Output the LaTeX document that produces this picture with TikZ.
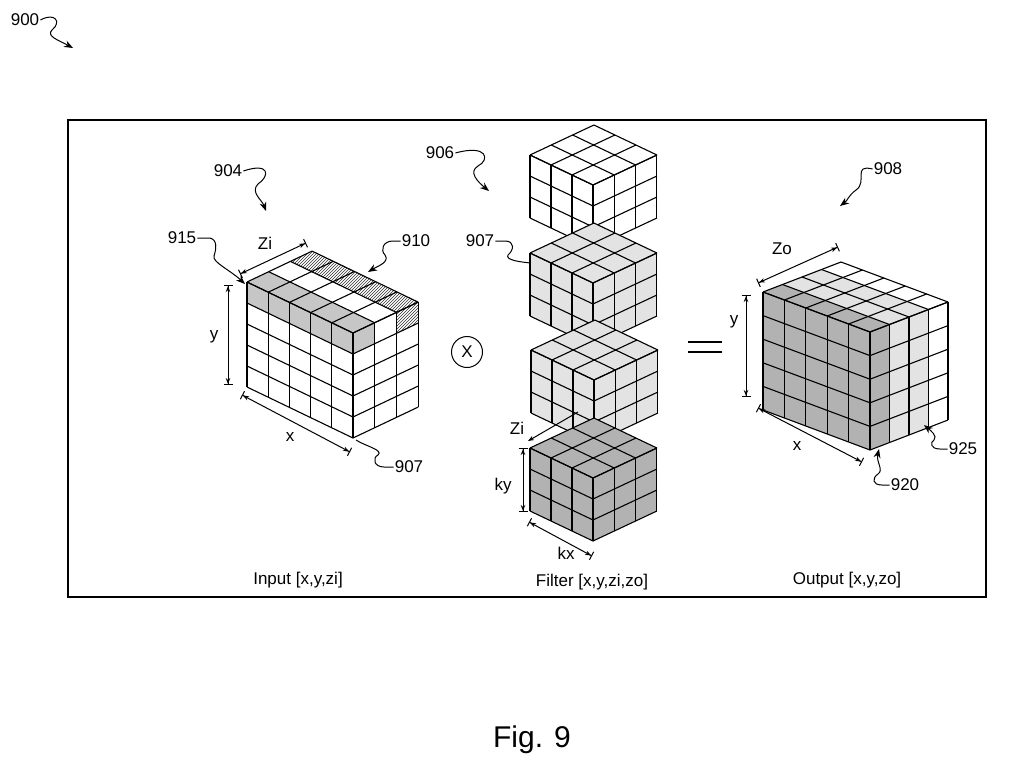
\documentclass[tikz,border=0pt]{standalone}
\usepackage{fontspec}
\setmainfont{Liberation Sans}
\usetikzlibrary{arrows.meta,patterns}
\newcommand\blk[8]{%
 \path[#6] (#1,#2) -- ++({#3*\ax},{#3*\ay}) -- ++(0,{#4*\hh}) -- ++({-#3*\ax},{-#3*\ay}) -- cycle;
 \path[#7] ({#1+#3*\ax},{#2+#3*\ay}) -- ++({#5*\bx},{#5*\by}) -- ++(0,{#4*\hh}) -- ++({-#5*\bx},{-#5*\by}) -- cycle;
 \path[#8] (#1,#2) -- ++({#3*\ax},{#3*\ay}) -- ++({#5*\bx},{#5*\by}) -- ++({-#3*\ax},{-#3*\ay}) -- cycle;
}
\newcommand\grid[5]{%
 \foreach \i in {0,...,#3}{\draw[cl] ({#1+\i*\ax},{#2+\i*\ay}) -- ++(0,{#4*\hh});
   \draw[cl] ({#1+\i*\ax},{#2+\i*\ay}) -- ++({#5*\bx},{#5*\by});}
 \foreach \j in {0,...,#4}{\draw[cl] (#1,{#2+\j*\hh}) -- ++({#3*\ax},{#3*\ay}) -- ++({#5*\bx},{#5*\by});}
 \foreach \k in {0,...,#5}{\draw[cl] ({#1+#3*\ax+\k*\bx},{#2+#3*\ay+\k*\by}) -- ++(0,{#4*\hh});
   \draw[cl] ({#1+\k*\bx},{#2+\k*\by}) -- ++({#3*\ax},{#3*\ay});}
}
\newcommand\cellT[5]{\path[#5] ({#1+#3*\ax+#4*\bx},{#2+#3*\ay+#4*\by}) -- ++(\ax,\ay) -- ++(\bx,\by) -- ++(-\ax,-\ay) -- cycle;}
\newcommand\cellL[5]{\path[#5] ({#1+#3*\ax},{#2+#3*\ay+#4*\hh}) -- ++(\ax,\ay) -- ++(0,\hh) -- ++(-\ax,-\ay) -- cycle;}
\newcommand\cellR[6]{\path[#6] ({#1+#3*\ax+#4*\bx},{#2+#3*\ay+#4*\by+#5*\hh}) -- ++(\bx,\by) -- ++(0,\hh) -- ++(-\bx,-\by) -- cycle;}
\begin{document}
\begin{tikzpicture}[x=1pt,y=-1pt,
 cl/.style={line width=1.1pt,line join=round},
 wh/.style={fill=white},
 lt/.style={fill=gray!22},
 dk/.style={fill=gray!60},
 md/.style={fill=gray!45},
 ht/.style={pattern=north east lines,pattern color=black!80},
 lbl/.style={font=\fontsize{17}{17}\selectfont,inner sep=1pt},
 dim/.style={line width=1pt,{Bar[width=9pt]Stealth[length=6pt]}-{Stealth[length=6pt]Bar[width=9pt]}},
 lead/.style={line width=1pt},
 ldar/.style={line width=1pt,-{Stealth[length=9pt,width=7pt]}}]
\useasboundingbox (0,0) rectangle (1024,771);
\draw[line width=1.2pt] (68,120) rectangle (986,597);
% ---------- input ----------
\def\ax{21.2}\def\ay{10.2}\def\bx{21.7}\def\by{-10.3}\def\hh{21}
\blk{247}{282}{5}{5}{3}{wh}{wh}{wh}
\foreach \i in {0,...,4}{\cellT{247}{282}{\i}{0}{md}\cellT{247}{282}{\i}{2}{ht}\cellL{247}{282}{\i}{0}{md}}
\cellR{247}{282}{5}{0}{0}{md}\cellR{247}{282}{5}{2}{0}{ht}
\grid{247}{282}{5}{5}{3}
% ---------- filters ----------
\def\ax{21}\def\ay{10}\def\bx{21.3}\def\by{-10}\def\hh{21}
\blk{530}{155}{3}{3}{3}{wh}{wh}{wh}\grid{530}{155}{3}{3}{3}
\blk{530}{253}{3}{3}{3}{lt}{lt}{lt}\grid{530}{253}{3}{3}{3}
\blk{531}{350}{3}{3}{3}{lt}{lt}{lt}\grid{531}{350}{3}{3}{3}
\blk{530}{448}{3}{3}{3}{dk}{dk}{dk}\grid{530}{448}{3}{3}{3}
% ---------- output ----------
\def\ax{21.4}\def\ay{8}\def\bx{19.5}\def\by{-7.5}\def\hh{23.6}
\blk{763}{292}{5}{5}{4}{dk}{wh}{wh}
\foreach \i in {0,...,4}{\cellT{763}{292}{\i}{0}{dk}\cellT{763}{292}{\i}{1}{lt}\cellT{763}{292}{\i}{2}{lt}}
\foreach \j in {0,...,4}{\cellR{763}{292}{5}{0}{\j}{dk}\cellR{763}{292}{5}{1}{\j}{lt}\cellR{763}{292}{5}{2}{\j}{lt}}
\grid{763}{292}{5}{5}{4}
% ---------- dimension arrows ----------
\node[lbl] (zi1) at (265,243) {Zi};
\coordinate (zia) at (240,274); \coordinate (zib) at (306,243);
\draw[dim] (zia) -- (zib);
\node[lbl] (y1) at (214,337) {y};
\coordinate (y1a) at (228,285); \coordinate (y1b) at (228,385);
\draw[dim] (y1a) -- (y1b);
\node[lbl] (x1) at (290,437) {x};
\coordinate (x1a) at (242,395); \coordinate (x1b) at (350,452);
\draw[dim] (x1a) -- (x1b);
\node[lbl] (zo) at (782,249) {Zo};
\coordinate (zoa) at (758,283); \coordinate (zob) at (838,247);
\draw[dim] (zoa) -- (zob);
\node[lbl] (y2) at (734,322) {y};
\coordinate (y2a) at (746,295); \coordinate (y2b) at (746,397);
\draw[dim] (y2a) -- (y2b);
\node[lbl] (x2) at (797,446) {x};
\coordinate (x2a) at (758,408); \coordinate (x2b) at (862,462);
\draw[dim] (x2a) -- (x2b);
\node[lbl] (zi2) at (517,428) {Zi};
\coordinate (zi2a) at (578,412); \coordinate (zi2b) at (528,441);
\draw[line width=1pt,-{Stealth[length=6pt]}] (zi2a) -- (zi2b);
\node[lbl] (ky) at (503,486) {ky};
\coordinate (kya) at (523,448); \coordinate (kyb) at (523,512);
\draw[dim] (kya) -- (kyb);
\node[lbl] (kx) at (566,553) {kx};
\coordinate (kxa) at (529,522); \coordinate (kxb) at (592,556);
\draw[dim] (kxa) -- (kxb);
% ---------- operators ----------
\node[draw,circle,line width=1pt,minimum size=31pt,inner sep=0pt,lbl] (times) at (467,352) {X};
\node (eq) at (708,347) {};
\draw[line width=1.3pt] (688,342) -- (722,342) (688,352) -- (722,352);
% ---------- reference numerals ----------
\node[lbl] (n900) at (25,20) {900};
\coordinate (a900) at (73,48);
\draw[ldar] (n900.east) .. controls (55,12) and (62,22) .. (52,30) .. controls (46,36) and (58,40) .. (a900);
\node[lbl] (n904) at (228,171) {904};
\coordinate (a904) at (266,211);
\draw[ldar] (n904.east) .. controls (270,162) and (270,176) .. (258,184) .. controls (250,192) and (262,200) .. (a904);
\node[lbl] (n906) at (440,153) {906};
\coordinate (a906) at (489,191);
\draw[ldar] (n906.east) .. controls (488,144) and (490,160) .. (478,166) .. controls (468,172) and (478,182) .. (a906);
\node[lbl] (n908) at (888,169) {908};
\coordinate (a908) at (840,206);
\draw[ldar] (n908.west) .. controls (852,164) and (868,182) .. (856,190) .. controls (848,196) and (848,200) .. (a908);
\node[lbl] (n915) at (182,238) {915};
\coordinate (a915) at (245,284);
\draw[ldar] (n915.east) -- (210,238) .. controls (218,240) and (216,250) .. (214,256) .. controls (212,262) and (230,270) .. (a915);
\node[lbl] (n910) at (416,241) {910};
\coordinate (a910) at (368,272);
\draw[ldar] (n910.west) -- (393,241) .. controls (383,241) and (380,250) .. (385,255) .. controls (390,262) and (378,266) .. (a910);
\node[lbl] (n907a) at (480,241) {907};
\coordinate (a907a) at (531,263);
\draw[lead] (n907a.east) -- (505,241) .. controls (515,241) and (514,250) .. (508,255) .. controls (505,260) and (520,262) .. (a907a);
\node[lbl] (n907b) at (409,467) {907};
\coordinate (a907b) at (356,440);
\draw[lead] (n907b.west) -- (384,467) .. controls (374,467) and (372,458) .. (378,455) .. controls (384,450) and (365,446) .. (a907b);
\node[lbl] (n920) at (905,485) {920};
\coordinate (a920) at (879,449);
\draw[ldar] (n920.west) -- (882,485) .. controls (872,485) and (872,478) .. (878,474) .. controls (884,470) and (876,462) .. (a920);
\node[lbl] (n925) at (963,449) {925};
\coordinate (a925) at (924,425);
\draw[ldar] (n925.west) -- (940,449) .. controls (930,449) and (930,442) .. (934,440) .. controls (938,436) and (930,430) .. (a925);
% ---------- captions ----------
\node[lbl] (cin) at (298,580) {Input [x,y,zi]};
\node[lbl] (cfi) at (592,582) {Filter [x,y,zi,zo]};
\node[lbl] (cou) at (847,580) {Output [x,y,zo]};
\node[font=\fontsize{30}{30}\selectfont] (fig) at (532,740) {Fig. 9};
\end{tikzpicture}
\end{document}
